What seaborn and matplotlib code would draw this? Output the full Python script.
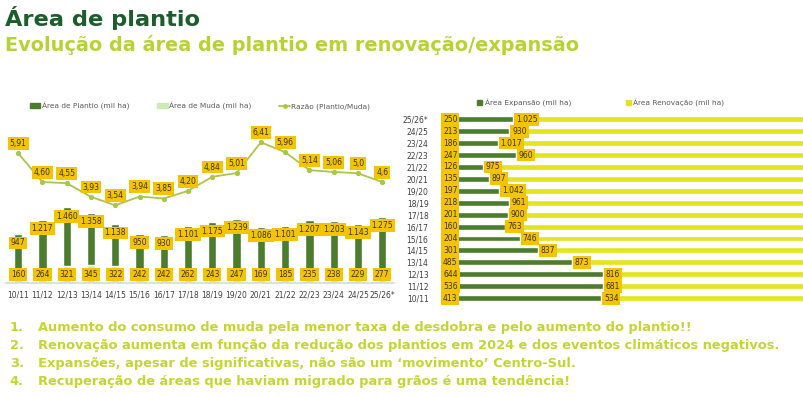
import numpy as np
import pandas as pd
import matplotlib
matplotlib.use("Agg")
import matplotlib.pyplot as plt
import seaborn as sns
from matplotlib.patches import Patch
from matplotlib.lines import Line2D

sns.set_theme(style="white")
plt.rcParams['font.family'] = ['DejaVu Sans']

# safras
safras = ['10/11', '11/12', '12/13', '13/14', '14/15', '15/16', '16/17', '17/18',
          '18/19', '19/20', '20/21', '21/22', '22/23', '23/24', '24/25', '25/26*']
plantio = [947, 1217, 1460, 1358, 1138, 950, 930, 1101, 1175, 1239, 1086, 1101, 1207, 1203, 1143, 1275]
muda = [160, 264, 321, 345, 322, 242, 242, 262, 243, 247, 169, 185, 235, 238, 229, 277]
razao = [5.91, 4.60, 4.55, 3.93, 3.54, 3.94, 3.85, 4.20, 4.84, 5.01, 6.41, 5.96, 5.14, 5.06, 5.0, 4.6]
razao_lbl = ['5,91', '4,60', '4,55', '3,93', '3,54', '3,94', '3,85', '4,20', '4,84', '5,01',
             '6,41', '5,96', '5,14', '5,06', '5,0', '4,6']
expansao = [413, 536, 644, 485, 301, 204, 160, 201, 218, 197, 135, 126, 247, 186, 213, 250]
renovacao = [534, 681, 816, 873, 837, 746, 763, 900, 961, 1042, 897, 975, 960, 1017, 930, 1025]

bullets = [
    "Aumento do consumo de muda pela menor taxa de desdobra e pelo aumento do plantio!!",
    "Renovação aumenta em função da redução dos plantios em 2024 e dos eventos climáticos negativos.",
    "Expansões, apesar de significativas, não são um \u2018movimento\u2019 Centro-Sul.",
    "Recuperação de áreas que haviam migrado para grãos é uma tendência!",
]

VERDE = '#4c7d2f'
VERDE_CLARO = '#cfe8b8'
LINHA = '#a9c64a'
AMARELO = '#e3e31e'
CAIXA = '#f4c400'
TXT = '#3b3413'

def fmt(v):
    return f"{v:,}".replace(',', '.')

fig = plt.figure(figsize=(8.04, 3.96), dpi=100)
fig.patch.set_facecolor('white')

fig.text(0.006, 0.985, "Área de plantio", fontsize=16.2, fontweight='bold', color='#1b5e2b', va='top')
fig.text(0.006, 0.912, "Evolução da área de plantio em renovação/expansão", fontsize=13.9,
         fontweight='bold', color='#b6d334', va='top')

# ---- left chart: bars + ratio line
df = pd.DataFrame({'safra': safras, 'plantio': plantio, 'muda': muda, 'razao': razao})
ax = fig.add_axes([0.0075, 0.285, 0.483, 0.394])
sns.barplot(data=df, x='safra', y='plantio', color=VERDE, width=0.34, saturation=1, ax=ax)
sns.barplot(data=df, x='safra', y='muda', color=VERDE_CLARO, width=0.34, saturation=1, ax=ax)
ax.set_ylim(0, 3000)
ax.set_xlim(-0.5, len(safras) - 0.5)
ax.set_xlabel('')
ax.set_ylabel('')
ax.set_yticks([])
for s in ['top', 'right', 'left']:
    ax.spines[s].set_visible(False)
ax.spines['bottom'].set_color('#d5dbe3')
ax.tick_params(axis='x', labelsize=5.5, labelcolor='#404040', length=0, pad=5)

box = dict(boxstyle='square,pad=0.25', fc=CAIXA, ec='none')
for i in range(len(safras)):
    ax.annotate(fmt(plantio[i]), (i, plantio[i]), xytext=(0, -6.5), textcoords='offset points',
                ha='center', va='center', fontsize=5.5, color=TXT, bbox=box)
    ax.annotate(fmt(muda[i]), (i, 0), xytext=(0, 6.5), textcoords='offset points',
                ha='center', va='center', fontsize=5.5, color=TXT, bbox=box)

ax2 = ax.twinx()
sns.lineplot(x=np.arange(len(safras)), y=df['razao'], color=LINHA, marker='o', markersize=3,
             markeredgecolor=LINHA, linewidth=1.3, ax=ax2)
ax2.set_ylim(0, 7.1)
ax2.set_yticks([])
ax2.set_ylabel('')
for s in ['top', 'right', 'left', 'bottom']:
    ax2.spines[s].set_visible(False)
for i in range(len(safras)):
    ax2.annotate(razao_lbl[i], (i, razao[i]), xytext=(0, 7), textcoords='offset points',
                 ha='center', va='center', fontsize=5.5, color=TXT, bbox=box)

handles = [Patch(color=VERDE, label='Área de Plantio (mil ha)'),
           Patch(color=VERDE_CLARO, label='Área de Muda (mil ha)'),
           Line2D([0], [0], color=LINHA, marker='o', markersize=2.5, lw=1.3, label='Razão (Plantio/Muda)')]
ax.legend(handles=handles, ncol=3, loc='lower center', bbox_to_anchor=(0.5, 1.07), frameon=False,
          fontsize=5.3, labelcolor='#595959', handlelength=1.4, handleheight=0.6, columnspacing=3.8,
          handletextpad=0.2)

# ---- right chart: 100% stacked expansao/renovacao
tot = np.array(expansao) + np.array(renovacao)
dr = pd.DataFrame({'safra': safras, 'exp': np.array(expansao) / tot, 'full': 1.0})
dr = dr.iloc[::-1].reset_index(drop=True)
bx = fig.add_axes([0.5485, 0.232, 0.452, 0.482])
sns.barplot(data=dr, y='safra', x='full', color=AMARELO, width=0.5, saturation=1, orient='h', ax=bx)
sns.barplot(data=dr, y='safra', x='exp', color=VERDE, width=0.5, saturation=1, orient='h', ax=bx)
bx.set_xlim(0, 0.99)
bx.set_ylim(len(safras) - 0.5, -0.5)
bx.set_xticks([])
bx.set_xlabel('')
bx.set_ylabel('')
for s in ['top', 'right', 'bottom']:
    bx.spines[s].set_visible(False)
bx.spines['left'].set_color('#7a7a5a')
bx.spines['left'].set_linewidth(0.6)
bx.tick_params(axis='y', labelsize=5.5, labelcolor='#404040', length=0, pad=9)

e_rev = expansao[::-1]
r_rev = renovacao[::-1]
for j in range(len(safras)):
    bx.annotate(fmt(e_rev[j]), (0, j), xytext=(1.5, 0), textcoords='offset points',
                ha='left', va='center', fontsize=5.5, color=TXT, bbox=box)
    bx.annotate(fmt(r_rev[j]), (dr['exp'][j], j), xytext=(2, 0), textcoords='offset points',
                ha='left', va='center', fontsize=5.5, color=TXT, bbox=box)

h2 = [Patch(color=VERDE, label='Área Expansão (mil ha)'),
      Patch(color=AMARELO, label='Área Renovação (mil ha)')]
bx.legend(handles=h2, ncol=2, loc='lower center', bbox_to_anchor=(0.44, 1.0), frameon=False,
          fontsize=5.3, labelcolor='#595959', handlelength=0.6, handleheight=0.6, columnspacing=7.5,
          handletextpad=0.4)

for k, t in enumerate(bullets):
    y = 0.174 - k * 0.0455
    fig.text(0.012, y, f"{k + 1}.", fontsize=9.35, fontweight='bold', color='#c1d72f', va='center')
    fig.text(0.047, y, t, fontsize=9.35, fontweight='bold', color='#c1d72f', va='center')

fig.savefig('out.png', dpi=100, facecolor='white')
